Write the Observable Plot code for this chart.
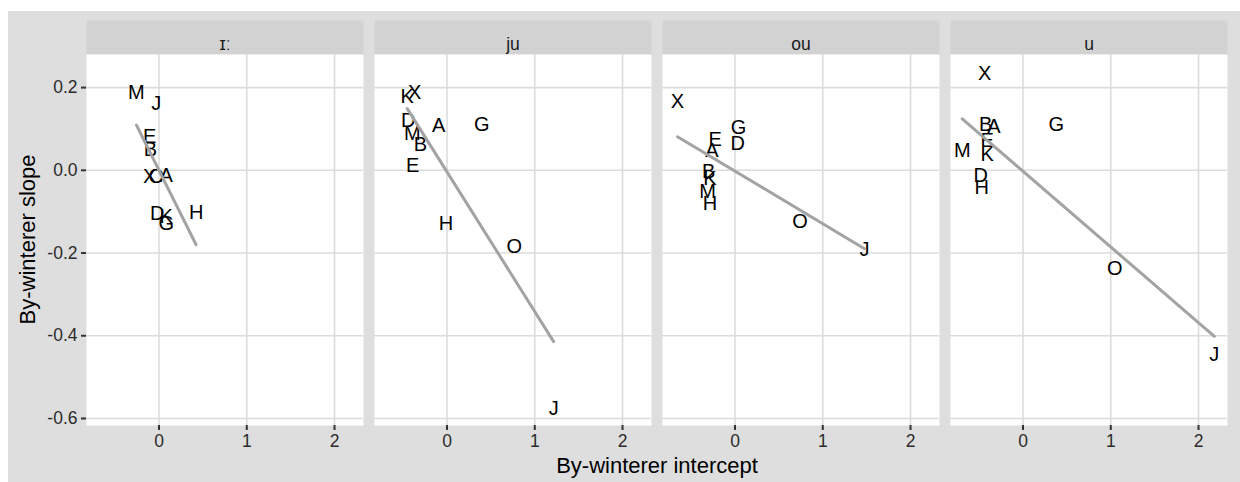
<!DOCTYPE html>
<html>
<head>
<meta charset="utf-8">
<script src="https://cdn.jsdelivr.net/npm/d3@7"></script>
<script src="https://cdn.jsdelivr.net/npm/@observablehq/plot@0.6"></script>
<style>
  html, body { margin: 0; padding: 0; background: #ffffff; }
  #chart { position: absolute; left: 8px; top: 11px; }
</style>
</head>
<body>
<div id="chart"></div>
<script>
// Facets (vowels) and speakers
const vowels = ["ɪː", "ju", "ou", "u"];
const speakers = ["A", "B", "D", "E", "G", "H", "J", "K", "M", "O", "X"];

// By-winterer intercepts (x) and slopes (y), in speaker order, per vowel
const interceptI = [0.083, -0.099, -0.019, -0.106, 0.083, 0.423, -0.030, 0.083, -0.257, -0.031, -0.106];
const slopeI     = [-0.012, 0.050, -0.105, 0.081, -0.130, -0.103, 0.161, -0.113, 0.189, -0.014, -0.014];

const interceptJu = [-0.095, -0.303, -0.442, -0.390, 0.397, -0.011, 1.215, -0.453, -0.396, 0.766, -0.367];
const slopeJu     = [0.109, 0.063, 0.121, 0.012, 0.111, -0.129, -0.576, 0.179, 0.089, -0.184, 0.189];

const interceptOu = [-0.262, -0.300, 0.030, -0.225, 0.041, -0.285, 1.475, -0.285, -0.312, 0.741, -0.655];
const slopeOu     = [0.047, -0.002, 0.065, 0.074, 0.103, -0.081, -0.192, -0.020, -0.052, -0.125, 0.165];

const interceptU = [-0.331, -0.425, -0.482, -0.407, 0.380, -0.471, 2.180, -0.407, -0.692, 1.046, -0.437];
const slopeU     = [0.106, 0.111, -0.012, 0.071, 0.111, -0.042, -0.446, 0.039, 0.048, -0.238, 0.235];

const xTicks = [0, 1, 2];
const yTicks = [0.2, 0.0, -0.2, -0.4, -0.6];

const xTitle = "By-winterer intercept";
const yTitle = "By-winterer slope";

// Build table
const series = {
  "ɪː": [interceptI, slopeI],
  "ju": [interceptJu, slopeJu],
  "ou": [interceptOu, slopeOu],
  "u":  [interceptU, slopeU]
};
const data = [];
for (const v of vowels) {
  const [xs, ys] = series[v];
  speakers.forEach((s, i) => data.push({vowel: v, speaker: s, intercept: xs[i], slope: ys[i]}));
}

const W = 1232, H = 471;
const mTop = 43, mBottom = 57, mLeft = 77, mRight = 11;
const panelH = H - mTop - mBottom;
const stripH = 34;
const font = "'Liberation Sans', Arial, Helvetica, sans-serif";

const chart = Plot.plot({
  width: W,
  height: H,
  marginTop: mTop,
  marginBottom: mBottom,
  marginLeft: mLeft,
  marginRight: mRight,
  style: {background: "#dedede", fontFamily: font, color: "#222"},
  fx: {domain: vowels, paddingInner: 0.037, paddingOuter: 0, axis: null, label: null},
  x: {domain: [-0.826, 2.33], label: null},
  y: {domain: [-0.617, 0.28], label: null},
  marks: [
    // strip backgrounds
    Plot.frame({fill: "#d2d2d2", insetTop: -stripH, insetBottom: panelH}),
    // strip labels
    Plot.text(vowels, {fx: d => d, text: d => d, frameAnchor: "top", dy: -stripH / 2, fontSize: 17.5, fill: "#1a1a1a"}),
    // panel background
    Plot.frame({fill: "white"}),
    Plot.gridX(xTicks, {stroke: "#dcdcdc", strokeOpacity: 1, strokeWidth: 1.6}),
    Plot.gridY(yTicks, {stroke: "#dcdcdc", strokeOpacity: 1, strokeWidth: 1.6}),
    Plot.text(data, {x: "intercept", y: "slope", fx: "vowel", text: "speaker", fontSize: 20, fill: "black"}),
    Plot.linearRegressionY(data, {x: "intercept", y: "slope", fx: "vowel", stroke: "#a3a3a3", strokeWidth: 3, ci: 0}),
    Plot.axisY({ticks: yTicks, tickFormat: d => d.toFixed(1), tickSize: 5, tickPadding: 4, fontSize: 17.5, stroke: "#333", strokeWidth: 2, fill: "#2b2b2b", label: null}),
    Plot.axisX({ticks: xTicks, tickFormat: d => String(d), tickSize: 5, tickPadding: 4, fontSize: 17.5, stroke: "#333", strokeWidth: 2, fill: "#2b2b2b", label: null})
  ]
});

const svg = d3.select(chart);
svg.append("text")
  .attr("x", (mLeft + (W - mRight)) / 2)
  .attr("y", 462)
  .attr("text-anchor", "middle")
  .attr("font-size", 22)
  .attr("font-family", font)
  .attr("fill", "black")
  .text(xTitle);
svg.append("text")
  .attr("transform", `translate(19, ${mTop + panelH / 2}) rotate(-90)`)
  .attr("dy", "0.35em")
  .attr("text-anchor", "middle")
  .attr("font-size", 22)
  .attr("font-family", font)
  .attr("fill", "black")
  .text(yTitle);

document.getElementById("chart").appendChild(chart);
</script>
</body>
</html>
